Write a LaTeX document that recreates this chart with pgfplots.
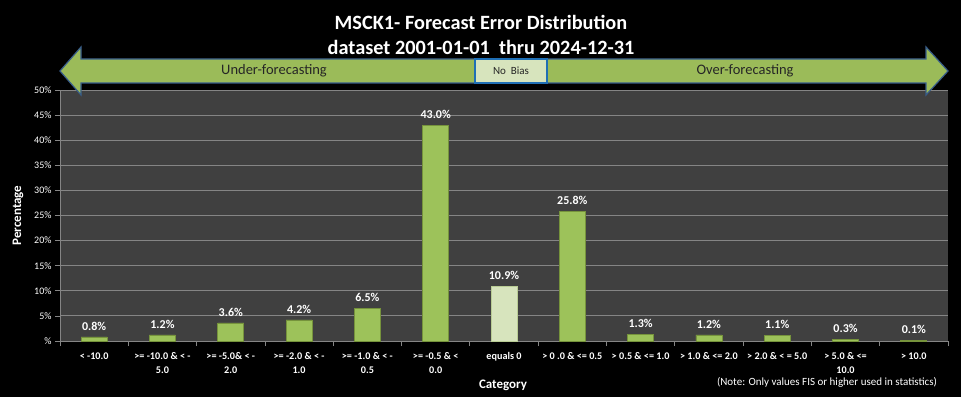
\documentclass[border=0pt]{standalone}
\usepackage{fontspec}
\setmainfont{Carlito}
\usepackage{pgfplots}
\pgfplotsset{compat=1.18}
\definecolor{plotbg}{HTML}{404040}
\definecolor{gridc}{HTML}{858585}
\definecolor{barg}{HTML}{9DC25A}
\definecolor{baredge}{HTML}{76933C}
\definecolor{barlight}{HTML}{D7E4BD}
\definecolor{barlightedge}{HTML}{B9CC94}
\definecolor{arrowg}{HTML}{9BBB59}
\definecolor{arrowb}{HTML}{385D8A}
\definecolor{boxb}{HTML}{1F6FB5}
\begin{document}
\begin{tikzpicture}[x=1pt,y=1pt]
\fill[black] (0,0) rectangle (961,397);
\useasboundingbox (0,0) rectangle (961,397);
\begin{axis}[
  at={(60pt,56pt)}, anchor=south west,
  scale only axis, width=888pt, height=251pt,
  xmin=-0.5, xmax=12.5, ymin=0, ymax=50,
  /pgf/number format/assume math mode=true,
  axis background/.style={fill=plotbg},
  axis x line*=bottom, axis y line*=left,
  axis line style={gridc, line width=1pt, -},
  ytick={0,5,...,50},
  yticklabels={\%,5\%,10\%,15\%,20\%,25\%,30\%,35\%,40\%,45\%,50\%},
  ymajorgrids, grid style={gridc, line width=1pt},
  tick align=outside,
  ytick style={gridc, line width=0.8pt},
  major tick length=5pt,
  yticklabel style={white, font=\fontsize{10}{11}\selectfont},
  xtick={0,...,12},
  xtick style={draw=none},
  xticklabels={{< -10.0},{>= -10.0 \& < -\\5.0},{>= -5.0\& < -\\2.0},{>= -2.0 \& < -\\1.0},{>= -1.0 \& < -\\0.5},{>= -0.5 \& <\\0.0},{equals 0},{> 0 .0 \& <= 0.5},{> 0.5 \& <= 1.0},{> 1.0 \& <= 2.0},{> 2.0 \& < = 5.0},{> 5.0 \& <=\\10.0},{> 10.0}},
  xticklabel style={white, font=\bfseries\fontsize{10.2}{14}\selectfont, align=center, yshift=-3pt},
  extra x ticks={-0.5,0.5,...,12.5},
  extra x tick labels={},
  extra x tick style={grid=none, major tick length=5pt, xtick style={draw=gridc, line width=0.8pt}},
  ybar, bar width=26pt,
  nodes near coords={\pgfmathprintnumber[fixed,fixed zerofill,precision=1,assume math mode=true]{\pgfplotspointmeta}\%},
  nodes near coords style={white, font=\bfseries\fontsize{12}{13}\selectfont, yshift=3pt},
  clip=false,
]
\addplot[fill=barg, draw=baredge, line width=0.8pt, bar shift=0pt] coordinates {
(0,0.8) (1,1.2) (2,3.6) (3,4.2) (4,6.5) (5,43.0) (7,25.8) (8,1.3) (9,1.2) (10,1.1) (11,0.3) (12,0.1)};
\addplot[fill=barlight, draw=barlightedge, line width=0.8pt, bar shift=0pt] coordinates {(6,10.9)};
\end{axis}
% bias arrow
\filldraw[fill=arrowg, draw=arrowb, line width=1.2pt]
  (60,326) -- (81,350) -- (81,338) -- (926,338) -- (926,350) -- (948,326)
  -- (926,302) -- (926,314) -- (81,314) -- (81,302) -- cycle;
\filldraw[fill=barlight, draw=boxb, line width=1.5pt] (475,314) rectangle (547,338);
\node[font=\fontsize{14.5}{15}\selectfont, text=black!85] at (274,326) {Under-forecasting};
\node[font=\fontsize{14.5}{15}\selectfont, text=black!85] at (745,326) {Over-forecasting};
\node[font=\fontsize{11}{12}\selectfont, text=black!85] at (511,326) {No\ \ Bias};
% titles
\node[white, font=\bfseries\fontsize{20.3}{21}\selectfont] at (481,375) {MSCK1- Forecast Error Distribution};
\node[white, font=\bfseries\fontsize{20.3}{21}\selectfont] at (481,350) {dataset 2001-01-01\ \ thru 2024-12-31};
% axis titles
\node[white, font=\bfseries\fontsize{13}{14}\selectfont] at (503,12) {Category};
\node[white, font=\bfseries\fontsize{13}{14}\selectfont, rotate=90] at (18,181.5) {Percentage};
\node[white, font=\fontsize{11}{12}\selectfont] at (827,15) {(Note: Only values FIS or higher used in statistics)};
\end{tikzpicture}
\end{document}
